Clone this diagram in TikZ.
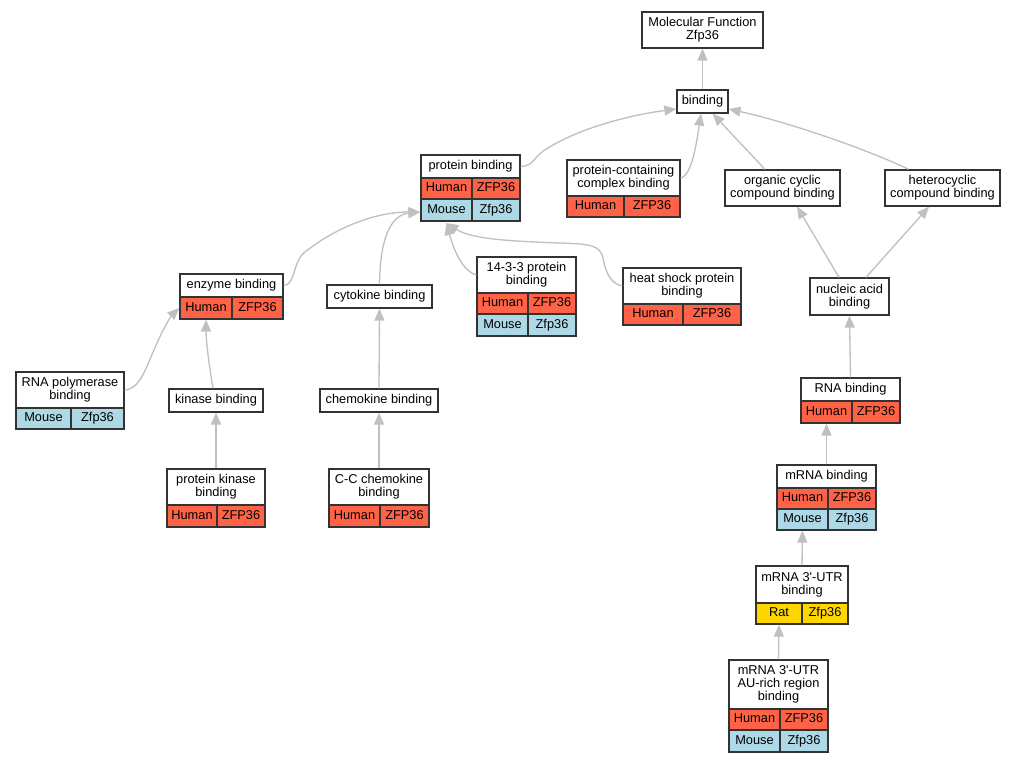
\documentclass[tikz,border=0pt]{standalone}
\usepackage{fontspec}
\newfontfamily\gvfont{Liberation Sans}[Ligatures=TeXOff]
\usetikzlibrary{arrows.meta,calc}
\definecolor{gvred}{HTML}{FF6347}
\definecolor{gvblue}{HTML}{ADD8E6}
\definecolor{gvgold}{HTML}{FFD700}
\definecolor{gvline}{HTML}{333333}
\definecolor{gvedge}{HTML}{C0C0C0}
\newcommand\gvstrut{\rule[-0.21em]{0pt}{0.93em}}
\tikzset{
  gvbox/.style={draw=gvline, line width=0.95pt, inner sep=0pt, align=center,
    font=\gvfont\fontsize{9.6}{9.75}\selectfont,
    execute at begin node=\gvstrut, execute at end node=\gvstrut},
  gvarrow/.style={draw=gvedge, line width=1pt, -{Triangle[length=9pt,width=7.5pt]}}
}
\newcommand\gvcell[7]{\node[gvbox, fill=#6, minimum width={(#4-#2)*0.75pt}, minimum height={(#5-#3)*0.75pt}] (#1) at ({(#2+#4)/2},{(#3+#5)/2}) {#7};}
\begin{document}
\begin{tikzpicture}[x=0.75pt,y=-0.75pt]
\fill[white] (0,0) rectangle (1016,763);
\useasboundingbox (0,0) rectangle (1016,763);
% nodes
\gvcell{mf}{642}{12}{763}{48}{white}{Molecular Function\\Zfp36}
\gvcell{bind}{677}{90}{728}{113}{white}{binding}
\gvcell{pb}{421}{155}{520}{178}{white}{protein binding}
\gvcell{pb-a1}{421}{178}{472}{199}{gvred}{Human}
\gvcell{pb-a2}{472}{178}{520}{199}{gvred}{ZFP36}
\gvcell{pb-b1}{421}{199}{472}{221}{gvblue}{Mouse}
\gvcell{pb-b2}{472}{199}{520}{221}{gvblue}{Zfp36}
\gvcell{pcc}{567}{160}{680}{196}{white}{protein-containing\\complex binding}
\gvcell{pcc-a1}{567}{196}{624}{217}{gvred}{Human}
\gvcell{pcc-a2}{624}{196}{680}{217}{gvred}{ZFP36}
\gvcell{occ}{725}{170}{840}{206}{white}{organic cyclic\\compound binding}
\gvcell{hcc}{885}{170}{1000}{206}{white}{heterocyclic\\compound binding}
\gvcell{eb}{180}{274}{283}{297}{white}{enzyme binding}
\gvcell{eb-a1}{180}{297}{232}{319}{gvred}{Human}
\gvcell{eb-a2}{232}{297}{283}{319}{gvred}{ZFP36}
\gvcell{cb}{327}{285}{432}{308}{white}{cytokine binding}
\gvcell{p1433}{477}{257}{576}{293}{white}{14-3-3 protein\\binding}
\gvcell{p1433-a1}{477}{293}{528}{314}{gvred}{Human}
\gvcell{p1433-a2}{528}{293}{576}{314}{gvred}{ZFP36}
\gvcell{p1433-b1}{477}{314}{528}{336}{gvblue}{Mouse}
\gvcell{p1433-b2}{528}{314}{576}{336}{gvblue}{Zfp36}
\gvcell{hsp}{623}{268}{741}{304}{white}{heat shock protein\\binding}
\gvcell{hsp-a1}{623}{304}{683}{325}{gvred}{Human}
\gvcell{hsp-a2}{683}{304}{741}{325}{gvred}{ZFP36}
\gvcell{nab}{810}{278}{889}{315}{white}{nucleic acid\\binding}
\gvcell{rpb}{16}{372}{124}{408}{white}{RNA polymerase\\binding}
\gvcell{rpb-a1}{16}{408}{71}{429}{gvblue}{Mouse}
\gvcell{rpb-a2}{71}{408}{124}{429}{gvblue}{Zfp36}
\gvcell{kb}{169}{389}{263}{412}{white}{kinase binding}
\gvcell{chb}{320}{389}{438}{412}{white}{chemokine binding}
\gvcell{rb}{801}{378}{900}{401}{white}{RNA binding}
\gvcell{rb-a1}{801}{401}{852}{423}{gvred}{Human}
\gvcell{rb-a2}{852}{401}{900}{423}{gvred}{ZFP36}
\gvcell{pkb}{167}{469}{265}{505}{white}{protein kinase\\binding}
\gvcell{pkb-a1}{167}{505}{217}{527}{gvred}{Human}
\gvcell{pkb-a2}{217}{505}{265}{527}{gvred}{ZFP36}
\gvcell{ccb}{329}{469}{429}{505}{white}{C-C chemokine\\binding}
\gvcell{ccb-a1}{329}{505}{380}{527}{gvred}{Human}
\gvcell{ccb-a2}{380}{505}{429}{527}{gvred}{ZFP36}
\gvcell{mb}{777}{465}{876}{488}{white}{mRNA binding}
\gvcell{mb-a1}{777}{488}{828}{509}{gvred}{Human}
\gvcell{mb-a2}{828}{488}{876}{509}{gvred}{ZFP36}
\gvcell{mb-b1}{777}{509}{828}{530}{gvblue}{Mouse}
\gvcell{mb-b2}{828}{509}{876}{530}{gvblue}{Zfp36}
\gvcell{utr}{756}{566}{848}{603}{white}{mRNA 3'-UTR\\binding}
\gvcell{utr-a1}{756}{603}{802}{624}{gvgold}{Rat}
\gvcell{utr-a2}{802}{603}{848}{624}{gvgold}{Zfp36}
\gvcell{au}{729}{660}{828}{709}{white}{mRNA 3'-UTR\\AU-rich region\\binding}
\gvcell{au-a1}{729}{709}{780}{730}{gvred}{Human}
\gvcell{au-a2}{780}{709}{828}{730}{gvred}{ZFP36}
\gvcell{au-b1}{729}{730}{780}{752}{gvblue}{Mouse}
\gvcell{au-b2}{780}{730}{828}{752}{gvblue}{Zfp36}
% edges
\draw[gvarrow] (bind.north) -- (mf.south);
\draw[gvarrow] (pb.east) .. controls (535,166) and (533,156) .. (548,148)
  .. controls (580,128) and (630,115) .. ($(bind.west)+(0,7.5)$);
\draw[gvarrow] (pcc.east) .. controls (692,176) and (697,140) .. ($(bind.south)+(-1.5,0)$);
\draw[gvarrow] ($(occ.north)+(-17.5,0)$) -- ($(bind.south east)+(-16,0)$);
\draw[gvarrow] ($(hcc.north)+(-34,0)$) .. controls (880,155) and (800,125) .. ($(bind.east)+(0,7.5)$);
\draw[gvarrow] (eb.east) .. controls (296,285) and (292,262) .. (305,252)
  .. controls (330,232) and (370,212) .. ($(pb-b1.west)+(0,2)$);
\draw[gvarrow] (cb.north) .. controls (380,240) and (390,215) .. ($(pb-b1.west)+(0,2)$);
\draw[gvarrow] (p1433.west) .. controls (465,272) and (455,255) .. ($(pb-b1.south)+(0,1.5)$);
\draw[gvarrow] (hsp.west) .. controls (610,284) and (605,270) .. (603,258)
  .. controls (600,245) and (590,244) .. (560,243)
  .. controls (500,241) and (470,238) .. ($(pb-b1.south)+(0,1.5)$);
\draw[gvarrow] (rpb.east) .. controls (140,389) and (145,370) .. (157,343)
  .. controls (165,325) and (172,315) .. (eb-a1.west);
\draw[gvarrow] ($(kb.north)+(-3,0)$) .. controls (209,365) and (206,340) .. (eb-a1.south);
\draw[gvarrow] (pkb.north) -- (kb.south);
\draw[gvarrow] (chb.north) -- (cb.south);
\draw[gvarrow] (ccb.north) -- (chb.south);
\draw[gvarrow] ($(nab.north)+(-10.5,0)$) -- ($(occ.south)+(14.5,0)$);
\draw[gvarrow] ($(nab.north)+(16.5,0)$) -- ($(hcc.south)+(-13.5,0)$);
\draw[gvarrow] (rb.north) -- (nab.south);
\draw[gvarrow] (mb.north) -- (rb-a1.south);
\draw[gvarrow] (utr.north) -- (mb-b1.south);
\draw[gvarrow] (au.north) -- (utr-a1.south);
\end{tikzpicture}
\end{document}
